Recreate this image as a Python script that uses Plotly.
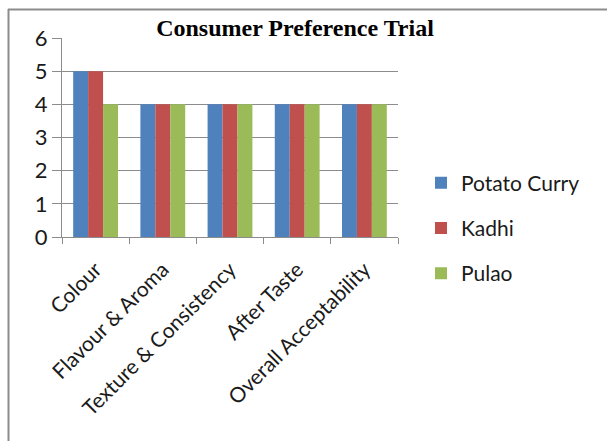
import plotly.graph_objects as go

categories = ["Colour", "Flavour & Aroma", "Texture & Consistency", "After Taste", "Overall Acceptability"]
potato_curry = [5, 4, 4, 4, 4]
kadhi = [5, 4, 4, 4, 4]
pulao = [4, 4, 4, 4, 4]
series_names = ["Potato Curry", "Kadhi", "Pulao"]
colors = ["#4F81BD", "#C0504D", "#9BBB59"]

fig = go.Figure()
for name, vals, col in zip(series_names, [potato_curry, kadhi, pulao], colors):
    fig.add_trace(go.Bar(x=categories, y=vals, name=name, marker_color=col,
                         marker_line_width=0, legendgroup=name))

W, H = 607, 441
L, R, T, B = 62, 398, 38, 237
fig.update_layout(
    width=W, height=H,
    margin=dict(l=L, r=W - R, t=T, b=H - B, pad=0, autoexpand=False),
    paper_bgcolor="white", plot_bgcolor="white",
    barmode="group", bargap=0.333, bargroupgap=0,
    font=dict(family="Lato, Open Sans, sans-serif", color="#1a1a1a", size=16),
    title=dict(text="<b>Consumer Preference Trial</b>", x=295 / W, xanchor="center",
               y=1 - 28 / H, yanchor="middle",
               font=dict(family="Liberation Serif, Times New Roman, serif", size=24, color="black")),
    legend=dict(x=(421 - L) / (R - L), xanchor="left", y=0.5 - (228 - (T + B) / 2) / (B - T),
                yanchor="middle", font=dict(size=21), tracegroupgap=15,
                traceorder="grouped", itemwidth=30),
    showlegend=True,
    xaxis=dict(showline=True, linecolor="#8c8c8c", linewidth=1, ticks="outside",
               tickson="boundaries", ticklen=6, tickcolor="#8c8c8c", tickangle=-45,
               tickfont=dict(size=21), showgrid=False, automargin=False,
               ticklabelstandoff=11),
    yaxis=dict(range=[0, 6], dtick=1, showline=True, linecolor="#8c8c8c", linewidth=1,
               ticks="outside", ticklen=9, tickcolor="#8c8c8c", gridcolor="#8c8c8c",
               gridwidth=1, tickfont=dict(size=22), zeroline=False, ticklabelstandoff=0,
               automargin=False),
)

# frame lines (top and left) of the chart area
px = lambda x: (x - L) / (R - L)
py = lambda y: (B - y) / (B - T)
fig.add_shape(type="line", xref="paper", yref="paper", x0=px(8), x1=px(607), y0=py(9.5), y1=py(9.5),
              line=dict(color="#8c8c8c", width=2))
fig.add_shape(type="line", xref="paper", yref="paper", x0=px(8.5), x1=px(8.5), y0=py(9), y1=py(441),
              line=dict(color="#8c8c8c", width=2))

fig.write_html("out.html", config={"displayModeBar": False},
               post_script="document.body.style.margin='0';")
